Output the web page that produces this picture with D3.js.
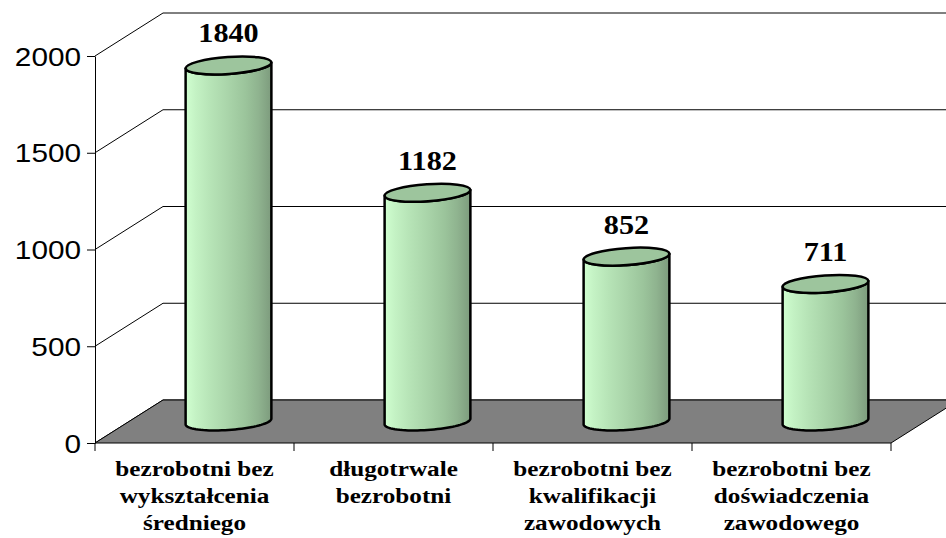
<!DOCTYPE html>
<html>
<head>
<meta charset="utf-8">
<script src="https://cdn.jsdelivr.net/npm/d3@7"></script>
<style>
  body { margin: 0; background: #fff; }
  svg { display: block; }
</style>
</head>
<body>
<div id="chart"></div>
<script>
/* DATA */
const categories = [
  ["bezrobotni bez", "wykształcenia", "średniego"],
  ["długotrwale", "bezrobotni"],
  ["bezrobotni bez", "kwalifikacji", "zawodowych"],
  ["bezrobotni bez", "doświadczenia", "zawodowego"]
];
const values = [1840, 1182, 852, 711];
const yTicks = [0, 500, 1000, 1500, 2000];

/* LAYOUT */
const width = 946, height = 538;
const plot = { left: 95, right: 891, top: 56, bottom: 443 };
const depth = { dx: 68, dy: -43 };   // 3d offset of back wall
const tilt = -4 * Math.PI / 180;    // ellipse tilt

const svg = d3.select("#chart").append("svg")
  .attr("width", width)
  .attr("height", height);

const ids = categories.map((c, i) => "c" + i);

const xScale = d3.scaleBand()
  .domain(ids)
  .range([plot.left, plot.right])
  .padding(0);

const yScale = d3.scaleLinear()
  .domain([0, 2000])
  .range([plot.bottom, plot.top]);

// gradient for the cylinder sides
const defs = svg.append("defs");
const grad = defs.append("linearGradient")
  .attr("id", "cyl")
  .attr("x1", 0).attr("x2", 1).attr("y1", 0).attr("y2", 0);
[[0, "#d0ffd0"], [0.12, "#c4f2c4"], [0.3, "#b6e3b6"], [0.5, "#a9d4a9"],
 [0.7, "#9bc49b"], [0.85, "#8fb38f"], [1, "#7d9b7d"]]
  .forEach(s => grad.append("stop").attr("offset", s[0]).attr("stop-color", s[1]));

/* WALL GRID LINES */
svg.selectAll("line.wall")
  .data(yTicks)
  .join("line")
  .attr("class", "wall")
  .attr("x1", plot.left).attr("y1", d => yScale(d))
  .attr("x2", plot.left + depth.dx).attr("y2", d => yScale(d) + depth.dy)
  .attr("stroke", "#000").attr("stroke-width", 1);

svg.selectAll("line.back")
  .data(yTicks)
  .join("line")
  .attr("class", "back")
  .attr("x1", plot.left + depth.dx).attr("y1", d => yScale(d) + depth.dy)
  .attr("x2", plot.right + depth.dx).attr("y2", d => yScale(d) + depth.dy)
  .attr("stroke", "#000").attr("stroke-width", 1);

/* FLOOR */
const y0 = yScale(0);
svg.append("path")
  .attr("d", d3.line()([
    [plot.left, y0], [plot.right, y0],
    [plot.right + depth.dx, y0 + depth.dy], [plot.left + depth.dx, y0 + depth.dy]
  ]) + "Z")
  .attr("fill", "#808080")
  .attr("stroke", "#000")
  .attr("stroke-width", 1);

/* Y AXIS */
const yAxis = d3.axisLeft(yScale)
  .tickValues(yTicks)
  .tickFormat(d3.format("d"))
  .tickSize(8)
  .tickSizeOuter(0)
  .tickPadding(4);

const yAxisGroup = svg.append("g")
  .attr("transform", `translate(${plot.left},0)`)
  .call(yAxis);
yAxisGroup.select(".domain").attr("stroke", "#000");
yAxisGroup.selectAll(".tick line").attr("stroke", "#000");
yAxisGroup.selectAll(".tick text")
  .attr("font-family", "Liberation Sans, Arial, sans-serif")
  .attr("font-size", 25)
  .attr("fill", "#000")
  .attr("dy", "0.36em")
  .attr("x", 0)
  .attr("transform", "translate(-14,0) scale(1.19,1)");

/* X AXIS (category boundaries) */
const bounds = ids.map(id => xScale(id)).concat([plot.right]);
svg.selectAll("line.xtick")
  .data(bounds)
  .join("line")
  .attr("class", "xtick")
  .attr("x1", d => d).attr("x2", d => d)
  .attr("y1", y0).attr("y2", y0 + 8)
  .attr("stroke", "#000");

const xLabels = svg.selectAll("text.xlabel")
  .data(categories)
  .join("text")
  .attr("class", "xlabel")
  .attr("text-anchor", "middle")
  .attr("font-family", "Liberation Serif, Times New Roman, serif")
  .attr("font-weight", "bold")
  .attr("font-size", 21)
  .attr("fill", "#000")
  .attr("transform", (d, i) => `translate(${xScale(ids[i]) + xScale.bandwidth() / 2},${y0 + 33}) scale(1.2,1)`);

xLabels.selectAll("tspan")
  .data(d => d)
  .join("tspan")
  .attr("x", 0)
  .attr("y", (d, i) => i * 27)
  .text(d => d);

/* CYLINDERS */
const rx = xScale.bandwidth() * 0.216;
const ry = 8.5;
const t0 = Math.atan2(-ry * Math.sin(tilt), rx * Math.cos(tilt));

function ellPt(cx, cy, t) {
  return [
    cx + rx * Math.cos(t) * Math.cos(tilt) - ry * Math.sin(t) * Math.sin(tilt),
    cy + rx * Math.cos(t) * Math.sin(tilt) + ry * Math.sin(t) * Math.cos(tilt)
  ];
}

function bodyPath(cx, cyTop, cyBot) {
  const n = 40, pts = [];
  // bottom front arc, left to right
  for (let k = 0; k <= n; k++) pts.push(ellPt(cx, cyBot, t0 + Math.PI - Math.PI * k / n));
  // top front arc, right to left
  for (let k = 0; k <= n; k++) pts.push(ellPt(cx, cyTop, t0 + Math.PI * k / n));
  return d3.line()(pts) + "Z";
}

const cyl = svg.selectAll("g.cyl")
  .data(values)
  .join("g")
  .attr("class", "cyl");

cyl.append("path")
  .attr("d", (d, i) => {
    const cx = xScale(ids[i]) + xScale.bandwidth() / 2 + depth.dx / 2;
    return bodyPath(cx, yScale(d) + depth.dy / 2, y0 + depth.dy / 2);
  })
  .attr("fill", "url(#cyl)")
  .attr("stroke", "#000")
  .attr("stroke-width", 2.5)
  .attr("stroke-linejoin", "round");

cyl.append("ellipse")
  .attr("rx", rx).attr("ry", ry)
  .attr("transform", (d, i) => {
    const cx = xScale(ids[i]) + xScale.bandwidth() / 2 + depth.dx / 2;
    return `translate(${cx},${yScale(d) + depth.dy / 2}) rotate(${tilt * 180 / Math.PI})`;
  })
  .attr("fill", "#9dc59d")
  .attr("stroke", "#000")
  .attr("stroke-width", 2.5);

/* VALUE LABELS */
svg.selectAll("text.val")
  .data(values)
  .join("text")
  .attr("class", "val")
  .attr("text-anchor", "middle")
  .attr("font-family", "Liberation Serif, Times New Roman, serif")
  .attr("font-weight", "bold")
  .attr("font-size", 27)
  .attr("fill", "#000")
  .attr("transform", (d, i) => {
    const cx = xScale(ids[i]) + xScale.bandwidth() / 2 + depth.dx / 2;
    return `translate(${cx},${yScale(d) + depth.dy / 2 - 23}) scale(1.12,1)`;
  })
  .text(d => d);
</script>
</body>
</html>
